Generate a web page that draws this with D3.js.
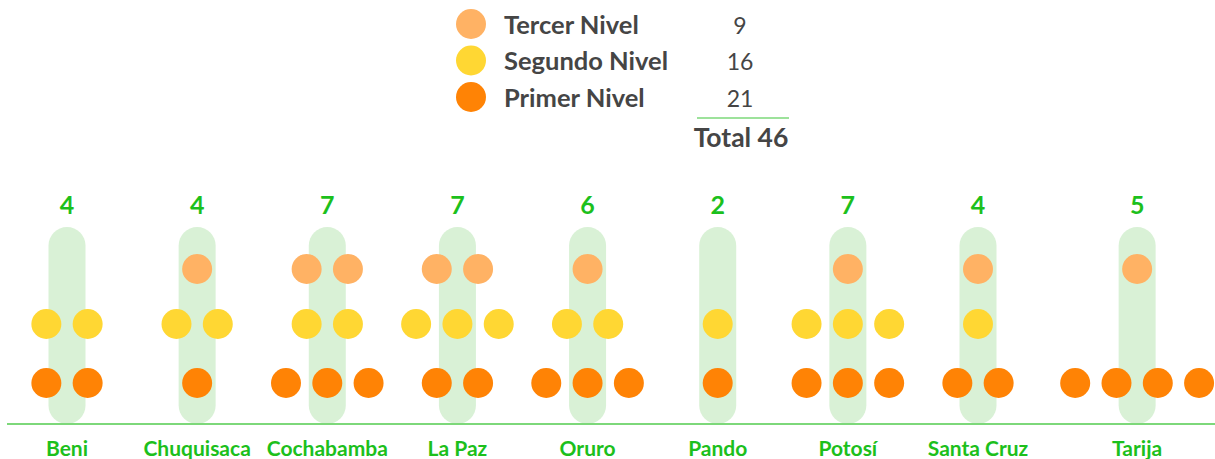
<!DOCTYPE html>
<html>
<head>
<meta charset="utf-8">
<script src="https://cdn.jsdelivr.net/npm/d3@7"></script>
<style>
  body { margin: 0; background: #fff; }
  svg { display: block; font-family: Lato, "Open Sans", sans-serif; }
</style>
</head>
<body>
<script>
// departments and counts per level
var departments = ["Beni", "Chuquisaca", "Cochabamba", "La Paz", "Oruro", "Pando", "Potosí", "Santa Cruz", "Tarija"];
var tercerNivel  = [0, 1, 2, 2, 1, 0, 1, 1, 1];
var segundoNivel = [2, 2, 2, 3, 2, 1, 3, 1, 0];
var primerNivel  = [2, 1, 3, 2, 3, 1, 3, 2, 4];
var levelNames   = ["Tercer Nivel", "Segundo Nivel", "Primer Nivel"];
var levelColors  = ["#ffb264", "#ffd733", "#ff8305"];

var width = 1215, height = 459;
var green = "#1cc01c";

var svg = d3.select("body").append("svg")
    .attr("width", width)
    .attr("height", height);

var series = [tercerNivel, segundoNivel, primerNivel];
var levelTotals = series.map(function (s) { return d3.sum(s); });
var total = d3.sum(levelTotals);

//legend
var legendY = d3.scalePoint().domain(levelNames).range([24, 97]);
var legend = svg.append("g");
levelNames.forEach(function (name, i) {
    var y = legendY(name);
    legend.append("circle").attr("cx", 471).attr("cy", y).attr("r", 15).attr("fill", levelColors[i]);
    legend.append("text").attr("x", 504).attr("y", y + 9.5)
        .attr("font-size", 25.5).attr("font-weight", 700).attr("fill", "#454545")
        .text(name);
    legend.append("text").attr("x", 740).attr("y", y + 9.5)
        .attr("text-anchor", "middle").attr("font-size", 23).attr("fill", "#454545")
        .text(levelTotals[i]);
});
legend.append("line").attr("x1", 697).attr("x2", 789).attr("y1", 118).attr("y2", 118)
    .attr("stroke", "#7dd87a").attr("stroke-width", 1.5);
legend.append("text").attr("x", 741).attr("y", 146.5).attr("text-anchor", "middle")
    .attr("font-size", 26.5).attr("font-weight", 700).attr("fill", "#454545")
    .text("Total " + total);

//x positions: regular step, last gap widened so four circles fit
var slot = d3.scaleLinear().domain([0, 7]).range([67, 978]);
var x = d3.scaleOrdinal().domain(departments).range(departments.map(function (d, i) {
    return i < 8 ? slot(i) : slot(i) + 29;
}));
var rowY = d3.scaleOrdinal().domain(levelNames).range([269, 324, 383]);
var dotStep = 41.3, r = 15;
var baseY = 424;

//pills
svg.selectAll(".pill").data(departments).enter().append("rect")
    .attr("class", "pill")
    .attr("x", function (d) { return x(d) - 18.5; })
    .attr("y", 227)
    .attr("width", 37)
    .attr("height", baseY - 227)
    .attr("rx", 18.5)
    .attr("fill", "#d9f1d6");

//dots
var dots = [];
departments.forEach(function (dep, i) {
    levelNames.forEach(function (lvl, l) {
        var n = series[l][i];
        for (var j = 0; j < n; j++) {
            dots.push({ dep: dep, level: lvl, color: levelColors[l], off: j - (n - 1) / 2 });
        }
    });
});
svg.selectAll(".dot").data(dots).enter().append("circle")
    .attr("class", "dot")
    .attr("cx", function (d) { return x(d.dep) + d.off * dotStep; })
    .attr("cy", function (d) { return rowY(d.level); })
    .attr("r", r)
    .attr("fill", function (d) { return d.color; });

//baseline
svg.append("line").attr("x1", 7).attr("x2", width).attr("y1", baseY).attr("y2", baseY)
    .attr("stroke", "#7dd87a").attr("stroke-width", 2);

//count labels
svg.selectAll(".count").data(departments).enter().append("text")
    .attr("class", "count")
    .attr("x", function (d) { return x(d); })
    .attr("y", 214)
    .attr("text-anchor", "middle")
    .attr("font-size", 25).attr("font-weight", 700).attr("fill", green)
    .text(function (d, i) { return tercerNivel[i] + segundoNivel[i] + primerNivel[i]; });

//department labels
svg.selectAll(".dep").data(departments).enter().append("text")
    .attr("class", "dep")
    .attr("x", function (d) { return x(d); })
    .attr("y", 456)
    .attr("text-anchor", "middle")
    .attr("font-size", 21).attr("font-weight", 700).attr("fill", green)
    .text(function (d) { return d; });
</script>
</body>
</html>
